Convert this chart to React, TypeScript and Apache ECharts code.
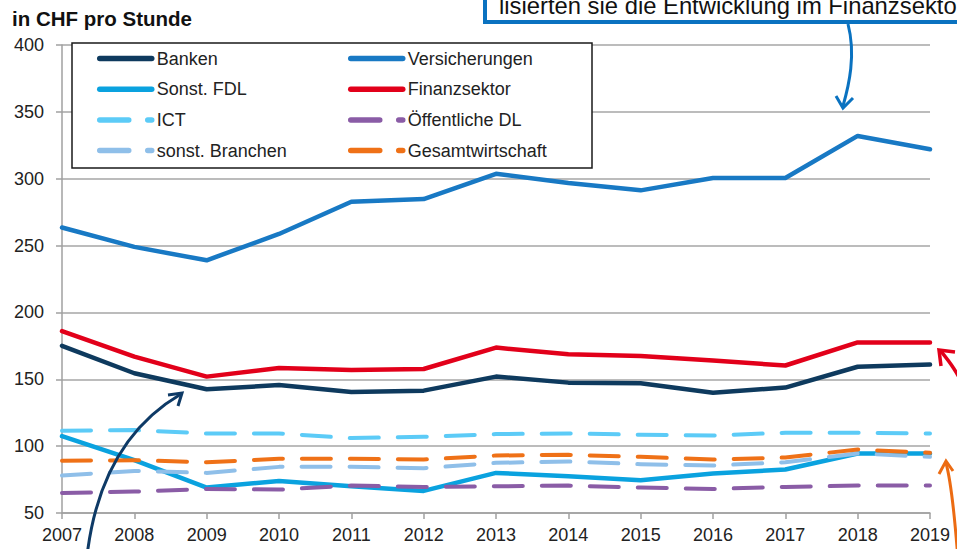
import React, { useEffect, useRef } from "react";
import * as echarts from "echarts";

const years = ["2007", "2008", "2009", "2010", "2011", "2012", "2013", "2014", "2015", "2016", "2017", "2018", "2019"];
const banken = [175, 154.5, 142.5, 145.7, 140.5, 141.5, 152, 147.5, 147, 140, 143.8, 159.4, 161];
const versicherungen = [263.5, 249, 239, 258.7, 282.8, 284.8, 303.7, 296.8, 291.3, 300.5, 300.5, 332, 322];
const sonstFDL = [107.5, 89.5, 69, 74, 70, 66.5, 80, 77.5, 74.5, 79.5, 82.5, 94.5, 94.5];
const finanzsektor = [186, 167, 152, 158.5, 157, 157.7, 173.7, 168.7, 167.5, 164, 160.3, 177.6, 177.6];
const ict = [111.5, 112, 109.5, 109.5, 106, 107, 109, 109.5, 108.5, 108, 110, 110, 109.5];
const oeffentlicheDL = [65, 66, 68, 67.5, 70.5, 69.5, 70, 70.5, 69, 68, 69.5, 70.5, 70.5];
const sonstBranchen = [78, 81.5, 80, 84.5, 84.5, 83.5, 87.5, 88.5, 86.5, 85.5, 88, 94.5, 92];
const gesamtwirtschaft = [89, 89.5, 88, 90.5, 90.5, 90, 93, 93.5, 92, 90, 91.5, 97.5, 95];

const legendLeftColumn = ["Banken", "Sonst. FDL", "ICT", "sonst. Branchen"];
const legendRightColumn = ["Versicherungen", "Finanzsektor", "Öffentliche DL", "Gesamtwirtschaft"];

const FONT = "'Liberation Sans', Arial, sans-serif";
const DASH = [29, 19];

export default function App() {
  const ref = useRef<HTMLDivElement>(null);
  useEffect(() => {
    if (!ref.current) return;
    const chart = echarts.init(ref.current, undefined, { renderer: "svg" });
    const solid = (name: string, data: number[], color: string) => ({
      name,
      type: "line",
      data,
      symbol: "none",
      color,
      lineStyle: { color, width: 4.5, type: "solid", cap: "round", join: "round" },
    });
    const dashed = (name: string, data: number[], color: string) => ({
      name,
      type: "line",
      data,
      symbol: "none",
      color,
      lineStyle: { color, width: 4, type: DASH, cap: "round", join: "round" },
    });
    const legendBase = {
      orient: "vertical",
      top: 48.5,
      padding: 0,
      itemGap: 10.7,
      itemWidth: 52,
      itemHeight: 7,
      selectedMode: false,
      itemStyle: { opacity: 0 },
      lineStyle: { width: 5.5 },
      textStyle: { fontSize: 18, color: "#222222", lineHeight: 20, fontFamily: FONT },
      z: 4,
    };
    chart.setOption({
      animation: false,
      backgroundColor: "#ffffff",
      textStyle: { fontFamily: FONT },
      grid: { left: 62, right: 27, top: 45, bottom: 36, containLabel: false },
      legend: [
        { ...legendBase, data: legendLeftColumn, left: 97 },
        { ...legendBase, data: legendRightColumn, left: 348 },
      ],
      xAxis: {
        type: "category",
        data: years,
        boundaryGap: false,
        axisLine: { show: true, lineStyle: { color: "#a0a0a0", width: 1.5 } },
        axisTick: { show: true, length: 6, lineStyle: { color: "#a0a0a0", width: 1.5 } },
        axisLabel: { fontSize: 18, color: "#222222", margin: 13, fontFamily: FONT },
        splitLine: { show: false },
      },
      yAxis: {
        type: "value",
        min: 50,
        max: 400,
        interval: 50,
        axisLine: { show: true, lineStyle: { color: "#a0a0a0", width: 1.5 } },
        axisTick: { show: true, length: 6, lineStyle: { color: "#a0a0a0", width: 1.5 } },
        axisLabel: { fontSize: 18, color: "#222222", margin: 18, fontFamily: FONT },
        splitLine: { show: true, lineStyle: { color: "#a6a6a6", width: 1.5 } },
      },
      series: [
        solid("Banken", banken, "#0e3a5e"),
        solid("Versicherungen", versicherungen, "#1879c4"),
        solid("Sonst. FDL", sonstFDL, "#0aa2df"),
        solid("Finanzsektor", finanzsektor, "#e2001a"),
        dashed("ICT", ict, "#5ccbf7"),
        dashed("Öffentliche DL", oeffentlicheDL, "#8a5ca6"),
        dashed("sonst. Branchen", sonstBranchen, "#8fbfe9"),
        dashed("Gesamtwirtschaft", gesamtwirtschaft, "#ef7117"),
      ],
      graphic: [
        {
          type: "rect",
          z: 3,
          shape: { x: 72, y: 43, width: 520, height: 125 },
          style: { fill: "#ffffff", stroke: "#1a1a1a", lineWidth: 1.5 },
        },
        {
          type: "text",
          left: 12,
          top: 8,
          z: 100,
          style: { text: "in CHF pro Stunde", fontSize: 20.5, fontWeight: "bold", fill: "#111111", fontFamily: FONT },
        },
        {
          type: "rect",
          z: 100,
          shape: { x: 485, y: -30, width: 520, height: 52 },
          style: { fill: "#ffffff", stroke: "#0a72c0", lineWidth: 4 },
        },
        {
          type: "text",
          z: 101,
          x: 499,
          y: 5,
          style: {
            text: "lisierten sie die Entwicklung im Finanzsekto",
            fontSize: 23.8,
            fill: "#111111",
            fontFamily: FONT,
            verticalAlign: "middle",
            align: "left",
          },
        },
        {
          type: "bezierCurve",
          z: 100,
          shape: { x1: 848, y1: 24, cpx1: 856, cpy1: 55, cpx2: 849, cpy2: 85, x2: 843, y2: 106 },
          style: { stroke: "#0a72c0", lineWidth: 3, fill: "none" },
        },
        {
          type: "polyline",
          z: 100,
          shape: { points: [[836, 96], [843, 108], [853, 98]] },
          style: { stroke: "#0a72c0", lineWidth: 3, fill: "none" },
        },
        {
          type: "bezierCurve",
          z: 100,
          shape: { x1: 87, y1: 556, cpx1: 96, cpy1: 480, cpx2: 128, cpy2: 425, x2: 181, y2: 394 },
          style: { stroke: "#0e3a66", lineWidth: 3, fill: "none" },
        },
        {
          type: "polyline",
          z: 100,
          shape: { points: [[168, 395], [182, 393], [178, 406]] },
          style: { stroke: "#0e3a66", lineWidth: 3, fill: "none" },
        },
        {
          type: "bezierCurve",
          z: 100,
          shape: { x1: 940, y1: 350, cpx1: 948, cpy1: 360, cpx2: 958, cpy2: 372, x2: 966, y2: 392 },
          style: { stroke: "#e2001a", lineWidth: 3.5, fill: "none" },
        },
        {
          type: "polyline",
          z: 100,
          shape: { points: [[941, 366], [939, 350], [955, 352]] },
          style: { stroke: "#e2001a", lineWidth: 3.5, fill: "none" },
        },
        {
          type: "bezierCurve",
          z: 100,
          shape: { x1: 958, y1: 560, cpx1: 955, cpy1: 520, cpx2: 952, cpy2: 485, x2: 946, y2: 463 },
          style: { stroke: "#ec6b12", lineWidth: 3, fill: "none" },
        },
        {
          type: "polyline",
          z: 100,
          shape: { points: [[939, 474], [946, 461], [953, 471]] },
          style: { stroke: "#ec6b12", lineWidth: 3, fill: "none" },
        },
      ],
    });
    return () => chart.dispose();
  }, []);
  return <div ref={ref} style={{ width: 957, height: 549, position: "fixed", left: 0, top: 0 }} />;
}
